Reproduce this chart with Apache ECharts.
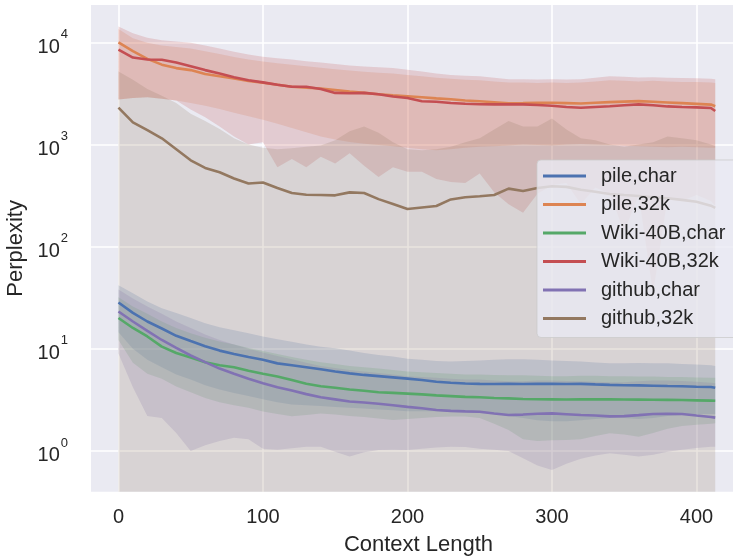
<!DOCTYPE html>
<html><head><meta charset="utf-8">
<script src="https://cdn.jsdelivr.net/npm/echarts@6/dist/echarts.min.js"></script>
<style>html,body{margin:0;padding:0;background:#fff}#c{width:733px;height:556px}</style>
</head><body><div id="c"></div>
<script>
const contextLength = [0,10,20,30,40,50,60,70,80,90,100,110,120,130,140,150,160,170,180,190,200,210,220,230,240,250,260,270,280,290,300,310,320,330,340,350,360,370,380,390,400,410,413];

const seriesNames = ['pile,char','pile,32k','Wiki-40B,char','Wiki-40B,32k','github,char','github,32k'];
const seriesColors = ['#4C72B0','#DD8452','#55A868','#C44E52','#8172B3','#937860'];
const xTickValues = [0,100,200,300,400];
const yTickExponents = [0,1,2,3,4];

const pileCharMean = [28.4,22.5,18.5,15.8,13.4,11.9,10.6,9.6,8.9,8.3,7.8,7.2,6.9,6.6,6.3,6.0,5.75,5.55,5.4,5.25,5.1,4.95,4.75,4.65,4.58,4.54,4.52,4.54,4.52,4.55,4.54,4.52,4.54,4.48,4.43,4.40,4.38,4.35,4.32,4.30,4.25,4.22,4.15];
const pileCharLow = [14.5,10,7.8,6.6,5.6,5.0,4.4,4.0,3.7,3.45,3.2,3.0,2.85,2.8,2.75,2.7,2.65,2.6,2.55,2.5,2.45,2.45,2.45,2.42,2.4,2.35,2.3,2.2,2.1,2.0,1.95,1.95,2.0,2.05,2.1,2.1,2.05,2.1,2.2,2.25,2.3,2.3,2.3];
const pileCharHigh = [42,35,29,25,22.4,20,17.8,16.3,15.2,14.2,13.2,12.4,11.7,11.0,10.5,10.1,9.6,9.1,8.7,8.4,8.0,7.8,7.6,7.5,7.6,7.7,7.8,7.9,7.9,7.8,7.7,7.6,7.5,7.35,7.2,7.2,7.25,7.2,7.2,7.1,7.0,6.9,6.8];

const pile32kMean = [10000,8200,6900,6050,5600,5350,4900,4650,4430,4200,4030,3850,3680,3600,3530,3420,3300,3200,3100,3030,2970,2900,2830,2770,2700,2650,2590,2530,2540,2560,2560,2540,2520,2560,2600,2630,2660,2620,2580,2540,2500,2460,2370];
const pile32kLow = [2760,2850,2900,2800,2700,2550,2400,2230,2050,1890,1750,1600,1450,1320,1200,1120,1060,1020,990,960,930,900,880,900,930,950,960,980,1000,990,980,1000,1010,1000,990,970,960,950,940,950,940,930,930];
const pile32kHigh = [13500,11000,9900,9300,9000,8700,8200,7700,7200,6800,6500,6250,6050,5850,5650,5450,5300,5150,5050,4950,4800,4650,4500,4400,4300,4250,4150,4050,4050,4000,4050,4000,4050,4150,4250,4200,4150,4200,4150,4100,4100,4050,4000];

const wikiCharMean = [20,16,13.2,10.5,9.1,8.2,7.4,6.9,6.6,6.1,5.7,5.35,4.95,4.55,4.3,4.15,4.0,3.88,3.76,3.70,3.64,3.58,3.50,3.44,3.38,3.35,3.30,3.27,3.23,3.21,3.20,3.19,3.20,3.20,3.20,3.19,3.18,3.17,3.16,3.15,3.13,3.11,3.10];
const wikiCharLow = [12.2,7.3,5.7,5.1,4.27,3.75,3.3,3.0,2.8,2.65,2.43,2.3,2.18,2.25,2.32,2.28,2.2,2.15,2.08,2.01,2.05,2.1,2.15,2.17,2.17,2.1,1.85,1.6,1.3,1.25,1.27,1.28,1.3,1.4,1.49,1.45,1.38,1.5,1.65,1.75,1.8,1.85,1.87];
const wikiCharHigh = [32,26,22,18.5,16,14.2,12.8,11.8,11,10.2,9.5,8.9,8.3,7.8,7.4,7.1,6.8,6.6,6.4,6.2,6.0,5.9,5.8,5.7,5.6,5.6,5.55,5.5,5.5,5.45,5.4,5.4,5.45,5.45,5.4,5.4,5.35,5.35,5.3,5.3,5.25,5.2,5.2];

const wiki32kMean = [8500,7100,6800,6750,6350,5850,5350,4950,4550,4250,4060,3850,3680,3680,3500,3200,3180,3200,3100,2950,2850,2650,2620,2550,2510,2480,2470,2470,2470,2440,2400,2330,2290,2330,2370,2420,2470,2420,2360,2330,2310,2280,2130];
const wiki32kLow = [2760,2850,2900,2800,2700,2200,1850,1500,1200,1000,1050,600,720,600,760,650,820,620,480,600,540,540,460,430,420,520,340,260,215,330,400,420,260,380,330,140,320,35,300,280,320,280,250];
const wiki32kHigh = [14300,12300,11100,10500,10200,9900,9300,8700,8100,7600,7250,7000,6800,6550,6350,6150,5950,5800,5700,5600,5400,5200,4950,4800,4700,4650,4500,4350,4350,4330,4350,4320,4350,4500,4650,4600,4520,4550,4500,4480,4450,4400,4350];

const githubCharMean = [23.2,18.5,15.0,12.2,10.2,8.6,7.4,6.4,5.7,5.1,4.6,4.2,3.9,3.6,3.35,3.2,3.05,2.98,2.90,2.80,2.70,2.62,2.52,2.47,2.44,2.42,2.33,2.25,2.27,2.31,2.33,2.29,2.25,2.22,2.18,2.19,2.24,2.30,2.31,2.30,2.22,2.15,2.12];
const githubCharLow = [9,4.2,2.2,2.1,1.5,1.0,1.14,1.25,1.35,1.3,1.05,1.03,1.06,1.1,1.1,0.98,0.88,0.97,1.02,1.03,1.02,1.05,1.08,1.1,1.09,1.05,1.03,1.0,0.85,0.72,0.65,0.75,0.84,0.9,0.95,0.92,0.88,0.92,0.98,1.03,1.07,1.1,1.1];
const githubCharHigh = [38,31,26,22,18.5,16,13.8,12.2,11,10,9.2,8.5,7.9,7.3,6.8,6.5,6.2,6.0,5.8,5.6,5.4,5.3,5.2,5.1,5.0,5.0,4.9,4.8,4.8,4.9,4.9,4.85,4.8,4.75,4.7,4.7,4.8,4.9,4.9,4.85,4.75,4.65,4.6];

const github32kMean = [2300,1650,1380,1150,900,700,590,535,465,415,425,375,335,322,320,318,340,335,292,262,234,242,250,290,305,312,320,370,350,375,390,385,360,345,328,320,313,305,298,287,275,252,240];
const github32kLow = [0.1,0.1,0.1,0.1,0.1,0.1,0.1,0.1,0.1,0.1,0.1,0.1,0.1,0.1,0.1,0.1,0.1,0.1,0.1,0.1,0.1,0.1,0.1,0.1,0.1,0.1,0.1,0.1,0.1,0.1,0.1,0.1,0.1,0.1,0.1,0.1,0.1,0.1,0.1,0.1,0.1,0.1,0.1];
const github32kHigh = [5200,4300,3500,3000,2550,2000,1700,1420,1150,1000,930,900,920,950,980,1100,1350,1500,1300,1050,900,880,900,950,1050,1150,1400,1700,1500,1500,1800,1400,1150,1100,1000,950,1000,1050,1200,1150,1100,1000,960];

const means = [pileCharMean, pile32kMean, wikiCharMean, wiki32kMean, githubCharMean, github32kMean];
const lows = [pileCharLow, pile32kLow, wikiCharLow, wiki32kLow, githubCharLow, github32kLow];
const highs = [pileCharHigh, pile32kHigh, wikiCharHigh, wiki32kHigh, githubCharHigh, github32kHigh];

const FONT = '"Liberation Sans", Arial, Helvetica, sans-serif';
const TXT = '#262626';

function hexToRgba(hex, a) {
  const n = parseInt(hex.slice(1), 16);
  return 'rgba(' + ((n >> 16) & 255) + ',' + ((n >> 8) & 255) + ',' + (n & 255) + ',' + a + ')';
}

function bandSeries(lo, hi, color) {
  return {
    type: 'custom',
    silent: true,
    clip: true,
    z: 1,
    data: contextLength.map((x, i) => [x, lo[i], hi[i]]),
    encode: { x: 0, y: [1, 2] },
    renderItem: function (params, api) {
      if (params.dataIndex !== 0) return null;
      const pts = [];
      for (let i = 0; i < contextLength.length; i++) pts.push(api.coord([contextLength[i], hi[i]]));
      for (let i = contextLength.length - 1; i >= 0; i--) pts.push(api.coord([contextLength[i], lo[i]]));
      return { type: 'polygon', shape: { points: pts }, style: { fill: hexToRgba(color, 0.2), stroke: null } };
    }
  };
}

const series = [];
for (let k = 0; k < seriesNames.length; k++) series.push(bandSeries(lows[k], highs[k], seriesColors[k]));
for (let k = 0; k < seriesNames.length; k++) {
  series.push({
    name: seriesNames[k],
    type: 'line',
    z: 3,
    showSymbol: false,
    symbol: 'none',
    silent: true,
    color: seriesColors[k],
    lineStyle: { width: 2.6, color: seriesColors[k] },
    data: contextLength.map((x, i) => [x, means[k][i]])
  });
}

const chart = echarts.init(document.getElementById('c'), null, { renderer: 'canvas' });
chart.setOption({
  animation: false,
  backgroundColor: '#ffffff',
  textStyle: { fontFamily: FONT, color: TXT },
  grid: { left: 91, right: 0, top: 5, bottom: 64.3, show: true, backgroundColor: '#EAEAF2', borderWidth: 0, outerBoundsMode: 'none', containLabel: false },
  xAxis: {
    type: 'value',
    min: -19,
    max: 425.3,
    axisLine: { show: false },
    axisTick: { show: false },
    splitLine: { show: true, showMinLine: false, showMaxLine: false, lineStyle: { color: '#ffffff', width: 1.6 } },
    axisLabel: {
      margin: 16,
      fontSize: 20,
      fontFamily: FONT,
      color: TXT,
      formatter: function (v) { return xTickValues.indexOf(Math.round(v * 1000) / 1000) >= 0 ? String(v) : ''; }
    },
    name: 'Context Length',
    nameLocation: 'middle',
    nameGap: 42,
    nameTextStyle: { fontSize: 22, fontFamily: FONT, color: TXT, padding: [0, 0, 0, 13] }
  },
  yAxis: {
    type: 'log',
    logBase: 10,
    min: 0.399,
    max: 23220,
    axisLine: { show: false },
    axisTick: { show: false },
    splitLine: { show: true, showMinLine: false, showMaxLine: false, lineStyle: { color: '#ffffff', width: 1.6 } },
    axisLabel: {
      margin: 23,
      formatter: function (v) {
        const l = Math.log10(v);
        const e = Math.round(l);
        if (Math.abs(l - e) > 1e-6 || yTickExponents.indexOf(e) < 0) return '';
        return '{b|10}{s|' + e + '}';
      },
      rich: {
        b: { fontSize: 20, fontFamily: FONT, color: TXT, padding: [10, 0, 0, 0] },
        s: { fontSize: 13, fontFamily: FONT, color: TXT, padding: [0, 0, 16, 1] }
      }
    },
    name: 'Perplexity',
    nameLocation: 'middle',
    nameGap: 53,
    nameTextStyle: { fontSize: 22, fontFamily: FONT, color: TXT }
  },
  legend: {
    orient: 'vertical',
    left: 537,
    top: 160,
    data: seriesNames,
    icon: 'rect',
    itemWidth: 43,
    itemHeight: 3,
    itemGap: 6.5,
    padding: [5, 14, 8, 6],
    backgroundColor: 'rgba(234,234,242,0.8)',
    borderColor: 'rgba(204,204,204,0.8)',
    borderWidth: 1,
    borderRadius: 4,
    selectedMode: false,
    textStyle: { fontSize: 20, fontFamily: FONT, color: TXT, lineHeight: 22, padding: [0, 0, 0, 10] }
  },
  series: series
});
</script>
</body></html>
